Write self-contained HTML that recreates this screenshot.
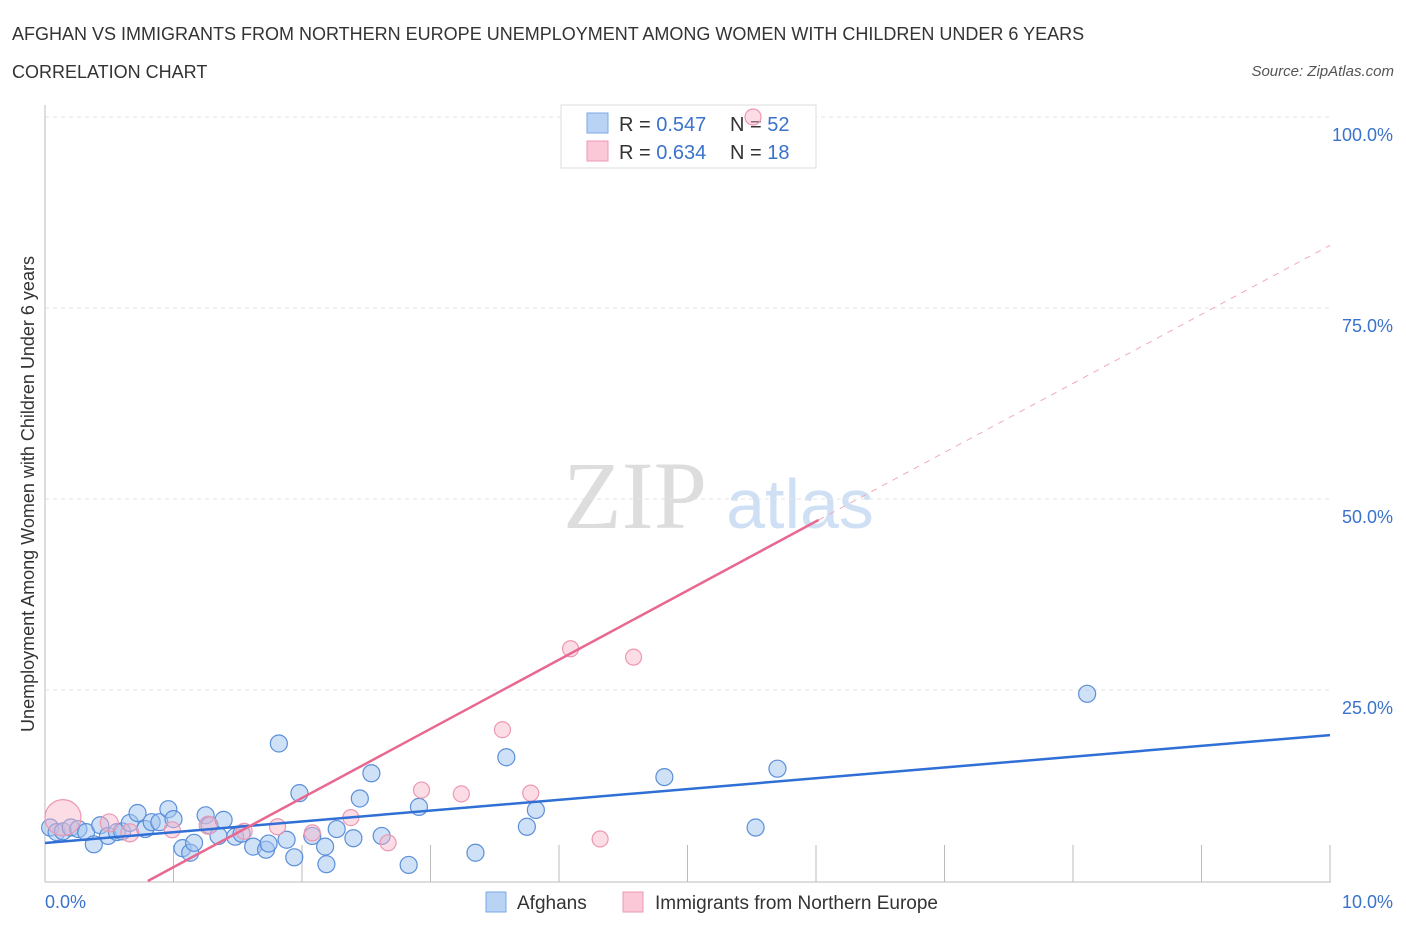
<!DOCTYPE html>
<html><head><meta charset="utf-8"><style>
body{margin:0;background:#fff;font-family:"Liberation Sans",sans-serif;}
</style></head><body>
<svg id="chart" width="1406" height="930" xmlns="http://www.w3.org/2000/svg" font-family="Liberation Sans, sans-serif">
<text x="12" y="40" font-size="18" fill="#333">AFGHAN VS IMMIGRANTS FROM NORTHERN EUROPE UNEMPLOYMENT AMONG WOMEN WITH CHILDREN UNDER 6 YEARS</text>
<text x="12" y="78" font-size="18" fill="#333">CORRELATION CHART</text>
<text x="1394" y="76" font-size="15" font-style="italic" fill="#555" text-anchor="end">Source: ZipAtlas.com</text>
<text x="635" y="528" font-size="96" font-family="Liberation Serif, serif" fill="#ddd" text-anchor="middle">ZIP</text>
<text x="800" y="528" font-size="70" fill="#cfe0f5" text-anchor="middle">atlas</text>
<g id="grid"></g><g id="axes"></g>
<g>
<rect x="561" y="105" width="255" height="63" fill="#fff" stroke="#ddd"/>
<rect x="587" y="113" width="21" height="20" fill="#b9d3f5" stroke="#7aa7e6"/>
<rect x="587" y="141" width="21" height="20" fill="#fac8d6" stroke="#ef9ab4"/>
<text x="619" y="131" font-size="20" fill="#333">R = <tspan fill="#3a72cc">0.547</tspan></text>
<text x="730" y="131" font-size="20" fill="#333">N = <tspan fill="#3a72cc">52</tspan></text>
<text x="619" y="159" font-size="20" fill="#333">R = <tspan fill="#3a72cc">0.634</tspan></text>
<text x="730" y="159" font-size="20" fill="#333">N = <tspan fill="#3a72cc"> 18</tspan></text>
</g>
<g id="marks"></g><g id="lines"></g>
<text transform="translate(34,494) rotate(-90)" font-size="18" fill="#333" text-anchor="middle">Unemployment Among Women with Children Under 6 years</text>
<g>
<rect x="486" y="892" width="20" height="20" fill="#b9d3f5" stroke="#7aa7e6"/>
<text x="517" y="909" font-size="19" fill="#333">Afghans</text>
<rect x="623" y="892" width="20" height="20" fill="#fac8d6" stroke="#ef9ab4"/>
<text x="655" y="909" font-size="19" fill="#333">Immigrants from Northern Europe</text>
</g>
</svg>
<script>
const xTicks=[0,10];
const yTicks=[25,50,75,100];
const afghanX=[0.04,0.09,0.14,0.2,0.26,0.32,0.38,0.43,0.49,0.56,0.6,0.66,0.72,0.78,0.83,0.89,0.96,1.0,1.07,1.13,1.16,1.25,1.28,1.35,1.39,1.48,1.53,1.62,1.72,1.74,1.82,1.88,1.94,1.98,2.08,2.18,2.19,2.27,2.4,2.45,2.54,2.62,2.83,2.91,3.35,3.59,3.75,3.82,4.82,5.53,5.7,8.11];
const afghanY=[7.0,6.4,6.5,7.0,6.8,6.4,4.8,7.3,5.9,6.4,6.5,7.6,8.9,6.8,7.7,7.7,9.4,8.1,4.3,3.7,5.0,8.6,7.3,5.9,8.0,5.8,6.2,4.5,4.1,4.9,18.0,5.4,3.1,11.5,5.9,4.5,2.2,6.8,5.6,10.8,14.1,5.9,2.1,9.7,3.7,16.2,7.1,9.3,13.6,7.0,14.7,24.5];
const nEuX=[0.14,0.5,0.66,0.99,1.27,1.55,1.81,2.08,2.38,2.67,2.93,3.24,3.56,3.78,4.09,4.32,4.58,5.51];
const nEuY=[8.3,7.6,6.3,6.7,7.3,6.5,7.1,6.3,8.3,5.0,11.9,11.4,19.8,11.5,30.4,5.5,29.3,100];
const nEuR=[18,9,9,8,9,8,8,8,8,8,8,8,8,8,8,8,8,8];
const blueTrend=[[0,4.97],[10,19.1]];
const pinkTrend=[[0.8,0],[6.02,47.25]];
const pinkDash=[[6.02,47.25],[10,83.2]];
const NS='http://www.w3.org/2000/svg';
const X=v=>45+v/10*1285, Y=v=>881-v/100*764;
function mk(p,tag,a){const e=document.createElementNS(NS,tag);for(const k in a)e.setAttribute(k,a[k]);document.getElementById(p).appendChild(e);return e;}
yTicks.forEach(t=>{
  const l=mk('grid','line',{x1:45,x2:1330,y1:Y(t),y2:Y(t),stroke:'#e3e3e3','stroke-dasharray':'4,4'});
  
  
  const tx=mk('grid','text',{x:1393,y:Y(t)+24,'font-size':18,fill:'#3a72cc','text-anchor':'end'});
  tx.textContent=t.toFixed(1)+'%';
  
  
});
mk('axes','line',{x1:45,x2:45,y1:105,y2:882,stroke:'#bbb'});
mk('axes','line',{x1:45,x2:1331,y1:882,y2:882,stroke:'#bbb'});
for(let i=1;i<=10;i++){mk('axes','line',{x1:X(i),x2:X(i),y1:845,y2:882,stroke:'#bbb'});}
xTicks.forEach((t,i)=>{
  const tx=mk('axes','text',{x:i?1393:45,y:908,'font-size':18,fill:'#3a72cc','text-anchor':i?'end':'start'});
  tx.textContent=t.toFixed(1)+'%';
  
  
});
afghanX.forEach((x,i)=>{
  const c=mk('marks','circle',{cx:X(x),cy:Y(afghanY[i]),r:8.5,fill:'rgba(160,195,240,0.5)',stroke:'#5b8fd9','stroke-width':1.2});
  
  
});
nEuX.forEach((x,i)=>{
  const c=mk('marks','circle',{cx:X(x),cy:Y(nEuY[i]),r:nEuR[i],fill:'rgba(248,180,200,0.45)',stroke:'#ec98b2','stroke-width':1.2});
  
  
});
function ln(d,col,dash,name){const l=mk('lines','line',{x1:X(d[0][0]),y1:Y(d[0][1]),x2:X(d[1][0]),y2:Y(d[1][1]),stroke:col,'stroke-width':dash?1:2.5});if(dash)l.setAttribute('stroke-dasharray','6,6');
  
  }
ln(blueTrend,'#2f6fd6',false,'afghan-trendline');
ln(pinkTrend,'#e8688f',false,'northern-europe-trendline');
ln(pinkDash,'#eeaabe',true,'northern-europe-trend-extension');
</script>
</body></html>
